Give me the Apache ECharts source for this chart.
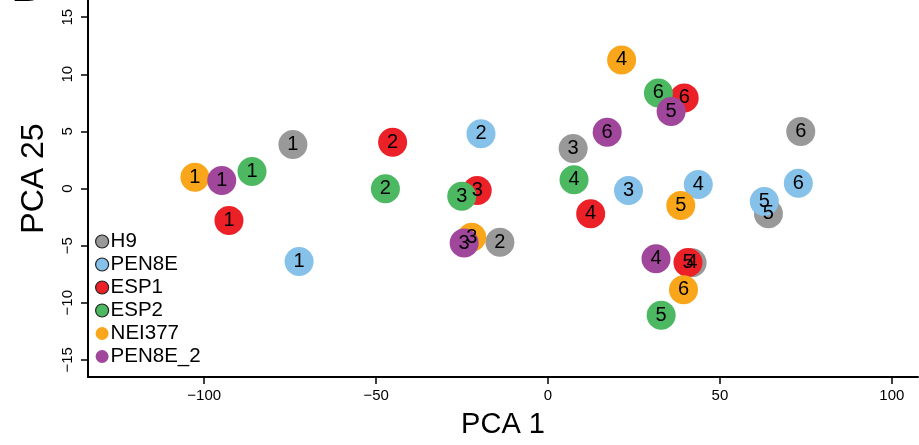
<!DOCTYPE html>
<html>
<head>
<meta charset="utf-8">
<script src="https://cdn.jsdelivr.net/npm/echarts@6/dist/echarts.min.js"></script>
<style>html,body{margin:0;padding:0;background:#fff}#c{width:919px;height:445px}</style>
</head>
<body>
<div id="c"></div>
<script>
// [PCA1, PCA25, sample id]
const H9 = [[-74.2,3.85,1],[-14.0,-4.7,2],[7.3,3.5,3],[41.9,-6.5,4],[64.1,-2.2,5],[73.5,5.0,6]];
const PEN8E = [[-72.4,-6.4,1],[-19.5,4.8,2],[23.4,-0.17,3],[43.7,0.35,4],[62.9,-1.14,5],[72.8,0.46,6]];
const ESP1 = [[-92.8,-2.8,1],[-45.2,4.05,2],[-20.6,-0.17,3],[12.4,-2.2,4],[40.7,-6.47,5],[39.6,7.93,6]];
const ESP2 = [[-86.1,1.49,1],[-47.3,-0.03,2],[-25.1,-0.67,3],[7.56,0.76,4],[32.9,-11.1,5],[32.1,8.37,6]];
const NEI377 = [[-102.7,0.99,1],[-22.2,-4.26,3],[21.4,11.25,4],[38.6,-1.49,5],[39.4,-8.86,6]];
const PEN8E_2 = [[-94.9,0.70,1],[-24.4,-4.78,3],[31.4,-6.15,4],[35.8,6.73,5],[17.2,4.92,6]];
const groupNames = ['H9','PEN8E','ESP1','ESP2','NEI377','PEN8E_2'];
const groupData = [H9, PEN8E, ESP1, ESP2, NEI377, PEN8E_2];
const groupColors = ['#999999','#86c1ea','#ec2027','#4cb862','#f9a61b','#a1479b'];
const legendOutlined = [true,true,true,true,false,false];
const xTicks = [-100,-50,0,50,100];
const yTicks = [-15,-10,-5,0,5,10,15];

const FONT = '"Liberation Sans", Arial, Helvetica, sans-serif';
const fmt = v => String(v).replace('-', '\u2212');

const chart = echarts.init(document.getElementById('c'), null, {renderer:'canvas'});
const series = groupNames.map((n,i)=>({
  name:n, type:'scatter', data:groupData[i], symbol:'circle', symbolSize:29,
  itemStyle:{color:groupColors[i], opacity:1},
  label:{show:true, position:'inside', formatter:p=>String(p.data[2]), color:'#000', fontSize:20, fontFamily:FONT},
  emphasis:{disabled:true}
}));
chart.setOption({
  animation:false,
  grid:{left:88, right:1, top:0, bottom:68},
  xAxis:{type:'value', min:-133.8, max:107.6,
    name:'PCA 1', nameLocation:'middle', nameGap:33,
    nameTextStyle:{fontSize:29, fontFamily:FONT, color:'#000'},
    axisLine:{show:true, onZero:false, lineStyle:{color:'#000', width:2}},
    axisTick:{show:true, length:7, lineStyle:{color:'#000', width:1.5}, customValues:xTicks},
    axisLabel:{fontSize:15, fontFamily:FONT, color:'#000', margin:11, customValues:xTicks, formatter:fmt},
    splitLine:{show:false}},
  yAxis:{type:'value', min:-16.5, max:16.5,
    name:'PCA 25', nameLocation:'middle', nameGap:38,
    nameTextStyle:{fontSize:32, fontFamily:FONT, color:'#000', padding:[0,0,0,20]},
    axisLine:{show:true, onZero:false, lineStyle:{color:'#000', width:2}},
    axisTick:{show:true, length:7, lineStyle:{color:'#000', width:1.5}, customValues:yTicks},
    axisLabel:{fontSize:15, fontFamily:FONT, color:'#000', margin:13, rotate:90, customValues:yTicks, formatter:fmt},
    splitLine:{show:false}},
  legend:{orient:'vertical', left:90, top:226, itemWidth:13, itemHeight:13, itemGap:2, icon:'circle',
    textStyle:{fontSize:20.5, fontFamily:FONT, color:'#000', lineHeight:19, padding:[0,0,0,-3]},
    data:groupNames.map((n,i)=>({name:n, itemStyle: legendOutlined[i] ? {borderColor:'#222', borderWidth:1.2} : {borderWidth:0}}))},
  graphic:[{type:'text', style:{x:12, y:10, text:'B', fontSize:40, fontWeight:'bold', fontFamily:FONT, fill:'#000', verticalAlign:'bottom'}}],
  series
});
</script>
</body>
</html>
